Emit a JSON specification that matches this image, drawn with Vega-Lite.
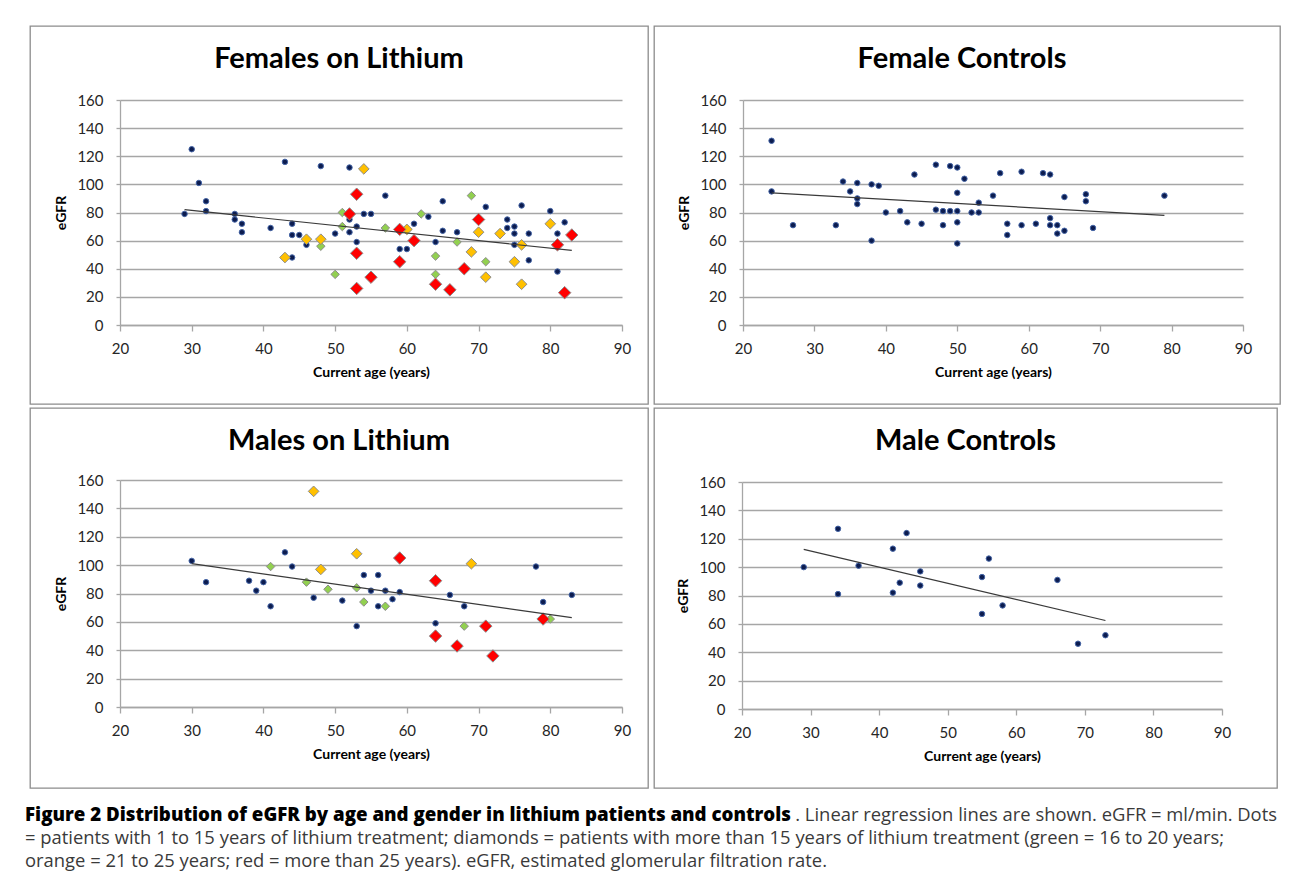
{
  "$schema": "https://vega.github.io/schema/vega-lite/v6.json",
  "background": "white",
  "padding": {"left": 25, "top": 25, "right": 5, "bottom": 2},
  "autosize": {"type": "pad"},
  "spacing": 17,
  "config": {
    "font": "Lato",
    "view": {"stroke": "#8c8c8c", "strokeWidth": 1.3},
    "title": {"font": "Lato", "fontSize": 29, "fontWeight": "bold", "color": "#000000", "baseline": "alphabetic", "offset": 0, "dy": 52, "anchor": "middle"},
    "axis": {
      "labelFont": "Lato", "labelFontSize": 15, "labelColor": "#262626",
      "titleFont": "Lato", "titleFontSize": 14, "titleFontWeight": "bold", "titleColor": "#000000",
      "domainColor": "#a6a6a6", "domainWidth": 1.3,
      "tickColor": "#a6a6a6", "tickWidth": 1.3,
      "gridColor": "#a6a6a6", "gridWidth": 1.3, "gridOpacity": 1,
      "labelOverlap": false, "labelFlush": false
    },
    "line": {"color": "#3a3a3a", "strokeWidth": 1.2}
  },
  "datasets": {
    "pts": [
      {"panel": "FL", "group": "1-15", "age": 29, "egfr": 79},
      {"panel": "FL", "group": "1-15", "age": 30, "egfr": 125},
      {"panel": "FL", "group": "1-15", "age": 31, "egfr": 101},
      {"panel": "FL", "group": "1-15", "age": 32, "egfr": 88},
      {"panel": "FL", "group": "1-15", "age": 32, "egfr": 81},
      {"panel": "FL", "group": "1-15", "age": 36, "egfr": 79},
      {"panel": "FL", "group": "1-15", "age": 36, "egfr": 75},
      {"panel": "FL", "group": "1-15", "age": 37, "egfr": 72},
      {"panel": "FL", "group": "1-15", "age": 37, "egfr": 66},
      {"panel": "FL", "group": "1-15", "age": 41, "egfr": 69},
      {"panel": "FL", "group": "1-15", "age": 43, "egfr": 116},
      {"panel": "FL", "group": "1-15", "age": 44, "egfr": 72},
      {"panel": "FL", "group": "1-15", "age": 44, "egfr": 64},
      {"panel": "FL", "group": "1-15", "age": 45, "egfr": 64},
      {"panel": "FL", "group": "1-15", "age": 44, "egfr": 48},
      {"panel": "FL", "group": "1-15", "age": 46, "egfr": 57},
      {"panel": "FL", "group": "1-15", "age": 48, "egfr": 113},
      {"panel": "FL", "group": "1-15", "age": 50, "egfr": 65},
      {"panel": "FL", "group": "1-15", "age": 52, "egfr": 112},
      {"panel": "FL", "group": "1-15", "age": 52, "egfr": 75},
      {"panel": "FL", "group": "1-15", "age": 52, "egfr": 66},
      {"panel": "FL", "group": "1-15", "age": 53, "egfr": 70},
      {"panel": "FL", "group": "1-15", "age": 53, "egfr": 59},
      {"panel": "FL", "group": "1-15", "age": 54, "egfr": 79},
      {"panel": "FL", "group": "1-15", "age": 55, "egfr": 79},
      {"panel": "FL", "group": "1-15", "age": 57, "egfr": 92},
      {"panel": "FL", "group": "1-15", "age": 59, "egfr": 54},
      {"panel": "FL", "group": "1-15", "age": 60, "egfr": 54},
      {"panel": "FL", "group": "1-15", "age": 61, "egfr": 72},
      {"panel": "FL", "group": "1-15", "age": 63, "egfr": 77},
      {"panel": "FL", "group": "1-15", "age": 64, "egfr": 59},
      {"panel": "FL", "group": "1-15", "age": 65, "egfr": 88},
      {"panel": "FL", "group": "1-15", "age": 65, "egfr": 67},
      {"panel": "FL", "group": "1-15", "age": 67, "egfr": 66},
      {"panel": "FL", "group": "1-15", "age": 71, "egfr": 84},
      {"panel": "FL", "group": "1-15", "age": 74, "egfr": 75},
      {"panel": "FL", "group": "1-15", "age": 74, "egfr": 69},
      {"panel": "FL", "group": "1-15", "age": 75, "egfr": 70},
      {"panel": "FL", "group": "1-15", "age": 75, "egfr": 65},
      {"panel": "FL", "group": "1-15", "age": 75, "egfr": 57},
      {"panel": "FL", "group": "1-15", "age": 76, "egfr": 85},
      {"panel": "FL", "group": "1-15", "age": 77, "egfr": 65},
      {"panel": "FL", "group": "1-15", "age": 77, "egfr": 46},
      {"panel": "FL", "group": "1-15", "age": 80, "egfr": 81},
      {"panel": "FL", "group": "1-15", "age": 81, "egfr": 65},
      {"panel": "FL", "group": "1-15", "age": 81, "egfr": 38},
      {"panel": "FL", "group": "1-15", "age": 82, "egfr": 73},
      {"panel": "FL", "group": "16-20", "age": 48, "egfr": 56},
      {"panel": "FL", "group": "16-20", "age": 50, "egfr": 36},
      {"panel": "FL", "group": "16-20", "age": 51, "egfr": 80},
      {"panel": "FL", "group": "16-20", "age": 51, "egfr": 70},
      {"panel": "FL", "group": "16-20", "age": 57, "egfr": 69},
      {"panel": "FL", "group": "16-20", "age": 62, "egfr": 79},
      {"panel": "FL", "group": "16-20", "age": 64, "egfr": 49},
      {"panel": "FL", "group": "16-20", "age": 64, "egfr": 36},
      {"panel": "FL", "group": "16-20", "age": 67, "egfr": 59},
      {"panel": "FL", "group": "16-20", "age": 69, "egfr": 92},
      {"panel": "FL", "group": "16-20", "age": 71, "egfr": 45},
      {"panel": "FL", "group": "21-25", "age": 43, "egfr": 48},
      {"panel": "FL", "group": "21-25", "age": 46, "egfr": 61},
      {"panel": "FL", "group": "21-25", "age": 48, "egfr": 61},
      {"panel": "FL", "group": "21-25", "age": 54, "egfr": 111},
      {"panel": "FL", "group": "21-25", "age": 60, "egfr": 68},
      {"panel": "FL", "group": "21-25", "age": 69, "egfr": 52},
      {"panel": "FL", "group": "21-25", "age": 70, "egfr": 66},
      {"panel": "FL", "group": "21-25", "age": 71, "egfr": 34},
      {"panel": "FL", "group": "21-25", "age": 73, "egfr": 65},
      {"panel": "FL", "group": "21-25", "age": 75, "egfr": 45},
      {"panel": "FL", "group": "21-25", "age": 76, "egfr": 57},
      {"panel": "FL", "group": "21-25", "age": 76, "egfr": 29},
      {"panel": "FL", "group": "21-25", "age": 80, "egfr": 72},
      {"panel": "FL", "group": ">25", "age": 52, "egfr": 79},
      {"panel": "FL", "group": ">25", "age": 53, "egfr": 93},
      {"panel": "FL", "group": ">25", "age": 53, "egfr": 51},
      {"panel": "FL", "group": ">25", "age": 53, "egfr": 26},
      {"panel": "FL", "group": ">25", "age": 55, "egfr": 34},
      {"panel": "FL", "group": ">25", "age": 59, "egfr": 68},
      {"panel": "FL", "group": ">25", "age": 59, "egfr": 45},
      {"panel": "FL", "group": ">25", "age": 61, "egfr": 60},
      {"panel": "FL", "group": ">25", "age": 64, "egfr": 29},
      {"panel": "FL", "group": ">25", "age": 66, "egfr": 25},
      {"panel": "FL", "group": ">25", "age": 68, "egfr": 40},
      {"panel": "FL", "group": ">25", "age": 70, "egfr": 75},
      {"panel": "FL", "group": ">25", "age": 81, "egfr": 57},
      {"panel": "FL", "group": ">25", "age": 82, "egfr": 23},
      {"panel": "FL", "group": ">25", "age": 83, "egfr": 64},

      {"panel": "FC", "group": "1-15", "age": 24, "egfr": 131},
      {"panel": "FC", "group": "1-15", "age": 24, "egfr": 95},
      {"panel": "FC", "group": "1-15", "age": 27, "egfr": 71},
      {"panel": "FC", "group": "1-15", "age": 33, "egfr": 71},
      {"panel": "FC", "group": "1-15", "age": 34, "egfr": 102},
      {"panel": "FC", "group": "1-15", "age": 35, "egfr": 95},
      {"panel": "FC", "group": "1-15", "age": 36, "egfr": 101},
      {"panel": "FC", "group": "1-15", "age": 36, "egfr": 90},
      {"panel": "FC", "group": "1-15", "age": 36, "egfr": 86},
      {"panel": "FC", "group": "1-15", "age": 38, "egfr": 100},
      {"panel": "FC", "group": "1-15", "age": 38, "egfr": 60},
      {"panel": "FC", "group": "1-15", "age": 39, "egfr": 99},
      {"panel": "FC", "group": "1-15", "age": 40, "egfr": 80},
      {"panel": "FC", "group": "1-15", "age": 42, "egfr": 81},
      {"panel": "FC", "group": "1-15", "age": 43, "egfr": 73},
      {"panel": "FC", "group": "1-15", "age": 44, "egfr": 107},
      {"panel": "FC", "group": "1-15", "age": 45, "egfr": 72},
      {"panel": "FC", "group": "1-15", "age": 47, "egfr": 114},
      {"panel": "FC", "group": "1-15", "age": 47, "egfr": 82},
      {"panel": "FC", "group": "1-15", "age": 48, "egfr": 81},
      {"panel": "FC", "group": "1-15", "age": 48, "egfr": 71},
      {"panel": "FC", "group": "1-15", "age": 49, "egfr": 113},
      {"panel": "FC", "group": "1-15", "age": 49, "egfr": 81},
      {"panel": "FC", "group": "1-15", "age": 50, "egfr": 112},
      {"panel": "FC", "group": "1-15", "age": 50, "egfr": 94},
      {"panel": "FC", "group": "1-15", "age": 50, "egfr": 81},
      {"panel": "FC", "group": "1-15", "age": 50, "egfr": 73},
      {"panel": "FC", "group": "1-15", "age": 50, "egfr": 58},
      {"panel": "FC", "group": "1-15", "age": 51, "egfr": 104},
      {"panel": "FC", "group": "1-15", "age": 52, "egfr": 80},
      {"panel": "FC", "group": "1-15", "age": 53, "egfr": 87},
      {"panel": "FC", "group": "1-15", "age": 53, "egfr": 80},
      {"panel": "FC", "group": "1-15", "age": 55, "egfr": 92},
      {"panel": "FC", "group": "1-15", "age": 56, "egfr": 108},
      {"panel": "FC", "group": "1-15", "age": 57, "egfr": 72},
      {"panel": "FC", "group": "1-15", "age": 57, "egfr": 64},
      {"panel": "FC", "group": "1-15", "age": 59, "egfr": 109},
      {"panel": "FC", "group": "1-15", "age": 59, "egfr": 71},
      {"panel": "FC", "group": "1-15", "age": 61, "egfr": 72},
      {"panel": "FC", "group": "1-15", "age": 62, "egfr": 108},
      {"panel": "FC", "group": "1-15", "age": 63, "egfr": 107},
      {"panel": "FC", "group": "1-15", "age": 63, "egfr": 76},
      {"panel": "FC", "group": "1-15", "age": 63, "egfr": 71},
      {"panel": "FC", "group": "1-15", "age": 64, "egfr": 71},
      {"panel": "FC", "group": "1-15", "age": 64, "egfr": 65},
      {"panel": "FC", "group": "1-15", "age": 65, "egfr": 91},
      {"panel": "FC", "group": "1-15", "age": 65, "egfr": 67},
      {"panel": "FC", "group": "1-15", "age": 68, "egfr": 93},
      {"panel": "FC", "group": "1-15", "age": 68, "egfr": 88},
      {"panel": "FC", "group": "1-15", "age": 69, "egfr": 69},
      {"panel": "FC", "group": "1-15", "age": 79, "egfr": 92},

      {"panel": "ML", "group": "1-15", "age": 30, "egfr": 103},
      {"panel": "ML", "group": "1-15", "age": 32, "egfr": 88},
      {"panel": "ML", "group": "1-15", "age": 38, "egfr": 89},
      {"panel": "ML", "group": "1-15", "age": 39, "egfr": 82},
      {"panel": "ML", "group": "1-15", "age": 40, "egfr": 88},
      {"panel": "ML", "group": "1-15", "age": 41, "egfr": 71},
      {"panel": "ML", "group": "1-15", "age": 43, "egfr": 109},
      {"panel": "ML", "group": "1-15", "age": 44, "egfr": 99},
      {"panel": "ML", "group": "1-15", "age": 47, "egfr": 77},
      {"panel": "ML", "group": "1-15", "age": 51, "egfr": 75},
      {"panel": "ML", "group": "1-15", "age": 53, "egfr": 57},
      {"panel": "ML", "group": "1-15", "age": 54, "egfr": 93},
      {"panel": "ML", "group": "1-15", "age": 55, "egfr": 82},
      {"panel": "ML", "group": "1-15", "age": 56, "egfr": 93},
      {"panel": "ML", "group": "1-15", "age": 57, "egfr": 82},
      {"panel": "ML", "group": "1-15", "age": 56, "egfr": 71},
      {"panel": "ML", "group": "1-15", "age": 58, "egfr": 76},
      {"panel": "ML", "group": "1-15", "age": 59, "egfr": 81},
      {"panel": "ML", "group": "1-15", "age": 64, "egfr": 59},
      {"panel": "ML", "group": "1-15", "age": 66, "egfr": 79},
      {"panel": "ML", "group": "1-15", "age": 68, "egfr": 71},
      {"panel": "ML", "group": "1-15", "age": 78, "egfr": 99},
      {"panel": "ML", "group": "1-15", "age": 79, "egfr": 74},
      {"panel": "ML", "group": "1-15", "age": 83, "egfr": 79},
      {"panel": "ML", "group": "16-20", "age": 41, "egfr": 99},
      {"panel": "ML", "group": "16-20", "age": 46, "egfr": 88},
      {"panel": "ML", "group": "16-20", "age": 49, "egfr": 83},
      {"panel": "ML", "group": "16-20", "age": 53, "egfr": 84},
      {"panel": "ML", "group": "16-20", "age": 54, "egfr": 74},
      {"panel": "ML", "group": "16-20", "age": 57, "egfr": 71},
      {"panel": "ML", "group": "16-20", "age": 68, "egfr": 57},
      {"panel": "ML", "group": "16-20", "age": 80, "egfr": 62},
      {"panel": "ML", "group": "21-25", "age": 47, "egfr": 152},
      {"panel": "ML", "group": "21-25", "age": 48, "egfr": 97},
      {"panel": "ML", "group": "21-25", "age": 53, "egfr": 108},
      {"panel": "ML", "group": "21-25", "age": 69, "egfr": 101},
      {"panel": "ML", "group": ">25", "age": 59, "egfr": 105},
      {"panel": "ML", "group": ">25", "age": 64, "egfr": 89},
      {"panel": "ML", "group": ">25", "age": 64, "egfr": 50},
      {"panel": "ML", "group": ">25", "age": 67, "egfr": 43},
      {"panel": "ML", "group": ">25", "age": 71, "egfr": 57},
      {"panel": "ML", "group": ">25", "age": 72, "egfr": 36},
      {"panel": "ML", "group": ">25", "age": 79, "egfr": 62},

      {"panel": "MC", "group": "1-15", "age": 29, "egfr": 100},
      {"panel": "MC", "group": "1-15", "age": 34, "egfr": 127},
      {"panel": "MC", "group": "1-15", "age": 34, "egfr": 81},
      {"panel": "MC", "group": "1-15", "age": 37, "egfr": 101},
      {"panel": "MC", "group": "1-15", "age": 42, "egfr": 113},
      {"panel": "MC", "group": "1-15", "age": 42, "egfr": 82},
      {"panel": "MC", "group": "1-15", "age": 43, "egfr": 89},
      {"panel": "MC", "group": "1-15", "age": 44, "egfr": 124},
      {"panel": "MC", "group": "1-15", "age": 46, "egfr": 97},
      {"panel": "MC", "group": "1-15", "age": 46, "egfr": 87},
      {"panel": "MC", "group": "1-15", "age": 55, "egfr": 93},
      {"panel": "MC", "group": "1-15", "age": 55, "egfr": 67},
      {"panel": "MC", "group": "1-15", "age": 56, "egfr": 106},
      {"panel": "MC", "group": "1-15", "age": 58, "egfr": 73},
      {"panel": "MC", "group": "1-15", "age": 66, "egfr": 91},
      {"panel": "MC", "group": "1-15", "age": 69, "egfr": 46},
      {"panel": "MC", "group": "1-15", "age": 73, "egfr": 52}
    ],
    "fits": [
      {"panel": "FL", "age": 29, "egfr": 82},
      {"panel": "FL", "age": 83, "egfr": 53},
      {"panel": "FC", "age": 24, "egfr": 94},
      {"panel": "FC", "age": 79, "egfr": 78},
      {"panel": "ML", "age": 30, "egfr": 101},
      {"panel": "ML", "age": 83, "egfr": 63},
      {"panel": "MC", "age": 29, "egfr": 112.5},
      {"panel": "MC", "age": 73, "egfr": 62.4}
    ],
    "caption": [
      {"line": 1, "anchor": "start", "kind": "heading", "text": "Figure 2 Distribution of eGFR by age and gender in lithium patients and controls"},
      {"line": 1, "anchor": "end", "kind": "body", "text": ". Linear regression lines are shown. eGFR = ml/min. Dots"},
      {"line": 2, "anchor": "start", "kind": "body", "text": "= patients with 1 to 15 years of lithium treatment; diamonds = patients with more than 15 years of lithium treatment (green = 16 to 20 years;"},
      {"line": 3, "anchor": "start", "kind": "body", "text": "orange = 21 to 25 years; red = more than 25 years). eGFR, estimated glomerular filtration rate."}
    ]
  },
  "vconcat": [
    {
      "spacing": 2,
      "vconcat": [
        {
          "spacing": 4,
          "hconcat": [
            {
              "width": 618, "height": 378,
              "title": {"text": "Females on Lithium"},
              "encoding": {
                "x": {"field": "age", "type": "quantitative", "scale": {"domain": [20, 90], "range": [90, 592], "nice": false, "zero": false},
                      "axis": {"title": "Current age (years)", "values": [20, 30, 40, 50, 60, 70, 80, 90], "grid": false, "offset": -79, "tickSize": 6, "labelPadding": 10, "titlePadding": 9}},
                "y": {"field": "egfr", "type": "quantitative", "scale": {"domain": [0, 160], "range": [299, 74], "nice": false, "zero": true},
                      "axis": {"title": "eGFR", "values": [0, 20, 40, 60, 80, 100, 120, 140, 160], "grid": true, "offset": -90, "tickSize": 4, "labelPadding": 13, "titlePadding": 8}}
              },
              "layer": [
                {
                  "data": {"name": "pts"},
                  "transform": [{"filter": "datum.panel === 'FL'"}],
                  "mark": {"type": "point", "filled": true, "opacity": 1, "strokeWidth": 1},
                  "encoding": {
                    "shape": {"field": "group", "type": "nominal", "legend": null, "scale": {"domain": ["1-15", "16-20", "21-25", ">25"], "range": ["circle", "diamond", "diamond", "diamond"]}},
                    "size": {"field": "group", "type": "nominal", "legend": null, "scale": {"domain": ["1-15", "16-20", "21-25", ">25"], "range": [30, 155, 155, 155]}},
                    "color": {"field": "group", "type": "nominal", "legend": null, "scale": {"domain": ["1-15", "16-20", "21-25", ">25"], "range": ["#0c1c4f", "#92d050", "#ffc000", "#ff0000"]}},
                    "stroke": {"field": "group", "type": "nominal", "legend": null, "scale": {"domain": ["1-15", "16-20", "21-25", ">25"], "range": ["#4565a6", "#8c8c8c", "#8c8c8c", "#8c8c8c"]}}
                  }
                },
                {
                  "data": {"name": "fits"},
                  "transform": [{"filter": "datum.panel === 'FL'"}],
                  "mark": {"type": "line", "color": "#3a3a3a", "strokeWidth": 1.2}
                }
              ]
            },
            {
              "width": 626, "height": 378,
              "title": {"text": "Female Controls", "dx": -5},
              "encoding": {
                "x": {"field": "age", "type": "quantitative", "scale": {"domain": [20, 90], "range": [89, 589], "nice": false, "zero": false},
                      "axis": {"title": "Current age (years)", "values": [20, 30, 40, 50, 60, 70, 80, 90], "grid": false, "offset": -79, "tickSize": 6, "labelPadding": 10, "titlePadding": 9}},
                "y": {"field": "egfr", "type": "quantitative", "scale": {"domain": [0, 160], "range": [299, 74], "nice": false, "zero": true},
                      "axis": {"title": "eGFR", "values": [0, 20, 40, 60, 80, 100, 120, 140, 160], "grid": true, "offset": -89, "tickSize": 4, "labelPadding": 13, "titlePadding": 8}}
              },
              "layer": [
                {
                  "data": {"name": "pts"},
                  "transform": [{"filter": "datum.panel === 'FC'"}],
                  "mark": {"type": "point", "filled": true, "opacity": 1, "strokeWidth": 1},
                  "encoding": {
                    "shape": {"field": "group", "type": "nominal", "legend": null, "scale": {"domain": ["1-15", "16-20", "21-25", ">25"], "range": ["circle", "diamond", "diamond", "diamond"]}},
                    "size": {"field": "group", "type": "nominal", "legend": null, "scale": {"domain": ["1-15", "16-20", "21-25", ">25"], "range": [30, 155, 155, 155]}},
                    "color": {"field": "group", "type": "nominal", "legend": null, "scale": {"domain": ["1-15", "16-20", "21-25", ">25"], "range": ["#0c1c4f", "#92d050", "#ffc000", "#ff0000"]}},
                    "stroke": {"field": "group", "type": "nominal", "legend": null, "scale": {"domain": ["1-15", "16-20", "21-25", ">25"], "range": ["#4565a6", "#8c8c8c", "#8c8c8c", "#8c8c8c"]}}
                  }
                },
                {
                  "data": {"name": "fits"},
                  "transform": [{"filter": "datum.panel === 'FC'"}],
                  "mark": {"type": "line", "color": "#3a3a3a", "strokeWidth": 1.2}
                }
              ]
            }
          ]
        },
        {
          "spacing": 4,
          "hconcat": [
            {
              "width": 618, "height": 380,
              "title": {"text": "Males on Lithium"},
              "encoding": {
                "x": {"field": "age", "type": "quantitative", "scale": {"domain": [20, 90], "range": [90, 592], "nice": false, "zero": false},
                      "axis": {"title": "Current age (years)", "values": [20, 30, 40, 50, 60, 70, 80, 90], "grid": false, "offset": -81, "tickSize": 6, "labelPadding": 10, "titlePadding": 9}},
                "y": {"field": "egfr", "type": "quantitative", "scale": {"domain": [0, 160], "range": [299, 72], "nice": false, "zero": true},
                      "axis": {"title": "eGFR", "values": [0, 20, 40, 60, 80, 100, 120, 140, 160], "grid": true, "offset": -90, "tickSize": 4, "labelPadding": 13, "titlePadding": 8}}
              },
              "layer": [
                {
                  "data": {"name": "pts"},
                  "transform": [{"filter": "datum.panel === 'ML'"}],
                  "mark": {"type": "point", "filled": true, "opacity": 1, "strokeWidth": 1},
                  "encoding": {
                    "shape": {"field": "group", "type": "nominal", "legend": null, "scale": {"domain": ["1-15", "16-20", "21-25", ">25"], "range": ["circle", "diamond", "diamond", "diamond"]}},
                    "size": {"field": "group", "type": "nominal", "legend": null, "scale": {"domain": ["1-15", "16-20", "21-25", ">25"], "range": [30, 155, 155, 155]}},
                    "color": {"field": "group", "type": "nominal", "legend": null, "scale": {"domain": ["1-15", "16-20", "21-25", ">25"], "range": ["#0c1c4f", "#92d050", "#ffc000", "#ff0000"]}},
                    "stroke": {"field": "group", "type": "nominal", "legend": null, "scale": {"domain": ["1-15", "16-20", "21-25", ">25"], "range": ["#4565a6", "#8c8c8c", "#8c8c8c", "#8c8c8c"]}}
                  }
                },
                {
                  "data": {"name": "fits"},
                  "transform": [{"filter": "datum.panel === 'ML'"}],
                  "mark": {"type": "line", "color": "#3a3a3a", "strokeWidth": 1.2}
                }
              ]
            },
            {
              "width": 623, "height": 380,
              "title": {"text": "Male Controls"},
              "encoding": {
                "x": {"field": "age", "type": "quantitative", "scale": {"domain": [20, 90], "range": [88, 568], "nice": false, "zero": false},
                      "axis": {"title": "Current age (years)", "values": [20, 30, 40, 50, 60, 70, 80, 90], "grid": false, "offset": -79, "tickSize": 6, "labelPadding": 10, "titlePadding": 9}},
                "y": {"field": "egfr", "type": "quantitative", "scale": {"domain": [0, 160], "range": [301, 74], "nice": false, "zero": true},
                      "axis": {"title": "eGFR", "values": [0, 20, 40, 60, 80, 100, 120, 140, 160], "grid": true, "offset": -88, "tickSize": 4, "labelPadding": 13, "titlePadding": 8}}
              },
              "layer": [
                {
                  "data": {"name": "pts"},
                  "transform": [{"filter": "datum.panel === 'MC'"}],
                  "mark": {"type": "point", "filled": true, "opacity": 1, "strokeWidth": 1},
                  "encoding": {
                    "shape": {"field": "group", "type": "nominal", "legend": null, "scale": {"domain": ["1-15", "16-20", "21-25", ">25"], "range": ["circle", "diamond", "diamond", "diamond"]}},
                    "size": {"field": "group", "type": "nominal", "legend": null, "scale": {"domain": ["1-15", "16-20", "21-25", ">25"], "range": [30, 155, 155, 155]}},
                    "color": {"field": "group", "type": "nominal", "legend": null, "scale": {"domain": ["1-15", "16-20", "21-25", ">25"], "range": ["#0c1c4f", "#92d050", "#ffc000", "#ff0000"]}},
                    "stroke": {"field": "group", "type": "nominal", "legend": null, "scale": {"domain": ["1-15", "16-20", "21-25", ">25"], "range": ["#4565a6", "#8c8c8c", "#8c8c8c", "#8c8c8c"]}}
                  }
                },
                {
                  "data": {"name": "fits"},
                  "transform": [{"filter": "datum.panel === 'MC'"}],
                  "mark": {"type": "line", "color": "#3a3a3a", "strokeWidth": 1.2}
                }
              ]
            }
          ]
        }
      ]
    },
    {
      "width": 1250, "height": 46,
      "view": {"stroke": null},
      "data": {"name": "caption"},
      "encoding": {
        "x": {"field": "anchor", "type": "nominal", "axis": null, "scale": {"type": "point", "domain": ["start", "end"], "range": [-5, 1247], "padding": 0}},
        "y": {"field": "line", "type": "ordinal", "axis": null, "scale": {"type": "point", "domain": [1, 2, 3], "range": [0, 46], "padding": 0}},
        "text": {"field": "text", "type": "nominal"}
      },
      "layer": [
        {"transform": [{"filter": "datum.kind === 'heading'"}],
         "mark": {"type": "text", "font": "Open Sans", "fontSize": 18.7, "fontWeight": 800, "color": "#000000", "align": "left", "baseline": "top"}},
        {"transform": [{"filter": "datum.kind === 'body' && datum.anchor === 'end'"}],
         "mark": {"type": "text", "font": "Open Sans", "fontSize": 18.4, "color": "#3a3a3a", "align": "right", "baseline": "top"}},
        {"transform": [{"filter": "datum.kind === 'body' && datum.anchor === 'start'"}],
         "mark": {"type": "text", "font": "Open Sans", "fontSize": 18.4, "color": "#3a3a3a", "align": "left", "baseline": "top"}}
      ]
    }
  ]
}
